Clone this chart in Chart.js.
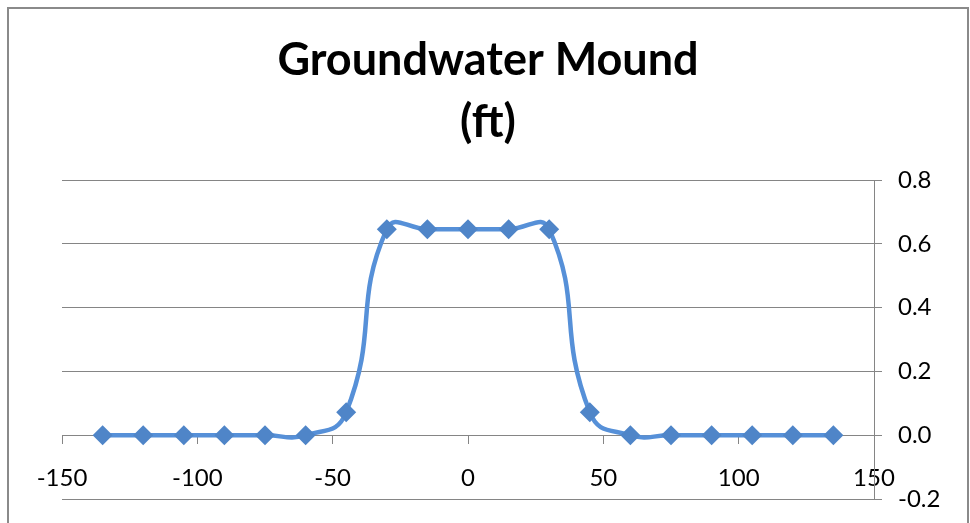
<!DOCTYPE html>
<html>
<head>
<meta charset="utf-8">
<script src="https://cdn.jsdelivr.net/npm/chart.js@4.4.1/dist/chart.umd.min.js"></script>
<style>
  html, body { margin: 0; padding: 0; background: #fff; overflow: hidden; }
  .frame {
    position: absolute; left: 7px; top: 7px;
    width: 958px; height: 600px;
    border: 2px solid #8a8a8a;
  }
  #mound { position: absolute; left: 0; top: 0; }
</style>
</head>
<body>
<div class="frame"></div>
<canvas id="mound" width="970" height="523"></canvas>
<script>
// 地下水マウンド（ft）
const distances = [-135, -120, -105, -90, -75, -60, -45, -30, -15, 0, 15, 30, 45, 60, 75, 90, 105, 120, 135]
const moundFt = [0, 0, 0, 0, 0, 0, 0.072, 0.646, 0.646, 0.646, 0.646, 0.646, 0.072, 0, 0, 0, 0, 0, 0]
const xTicks = [-150, -100, -50, 0, 50, 100, 150]
const yTicks = [-0.2, 0, 0.2, 0.4, 0.6, 0.8]
const titleLines = ['Groundwater Mound', '(ft)']

const gridGray = '#858585'
const fontFamily = 'Lato, "Open Sans", sans-serif'

const points = distances.map((x, i) => ({ x: x, y: moundFt[i] }))

// タイトルは枠全体の中央に描く
const titlePlugin = {
  id: 'frameTitle',
  afterDraw(chart) {
    const ctx = chart.ctx
    ctx.save()
    ctx.fillStyle = '#000'
    ctx.font = 'bold 45px ' + fontFamily
    ctx.textAlign = 'center'
    ctx.textBaseline = 'middle'
    titleLines.forEach((line, i) => {
      ctx.fillText(line, 488, 60 + i * 62)
    })
    ctx.restore()
  }
}

new Chart(document.getElementById('mound'), {
  type: 'scatter',
  data: {
    datasets: [{
      data: points,
      showLine: true,
      tension: 0.5,
      borderColor: '#5690d8',
      borderWidth: 4.5,
      pointStyle: 'rectRot',
      pointRadius: 10,
      pointHoverRadius: 10,
      pointBackgroundColor: '#4f85c8',
      pointBorderColor: '#4f85c8',
      pointBorderWidth: 0
    }]
  },
  plugins: [titlePlugin],
  options: {
    responsive: false,
    animation: false,
    devicePixelRatio: 1,
    layout: {
      padding: { left: 62, right: 0, top: 180, bottom: 24 }
    },
    plugins: {
      legend: { display: false },
      tooltip: { enabled: false },
      title: { display: false }
    },
    scales: {
      x: {
        type: 'linear',
        min: -150,
        max: 150,
        position: { y: 0 },
        afterBuildTicks: (scale) => {
          scale.ticks = xTicks.map(v => ({ value: v }))
        },
        grid: {
          drawOnChartArea: false,
          drawTicks: true,
          tickLength: 8,
          color: gridGray,
          lineWidth: 1
        },
        border: { display: true, color: gridGray, width: 1 },
        ticks: {
          color: '#000',
          padding: 21,
          maxRotation: 0,
          font: { family: fontFamily, size: 24 }
        }
      },
      y: {
        type: 'linear',
        position: 'right',
        min: -0.2,
        max: 0.8,
        afterBuildTicks: (scale) => {
          scale.ticks = yTicks.map(v => ({ value: v }))
        },
        afterFit: (scale) => {
          // 幅は固定、上下の余白はレイアウト側で決める
          scale.width = 96
          scale.paddingTop = 0
          scale.paddingBottom = 0
        },
        grid: {
          drawTicks: true,
          tickLength: 8,
          color: gridGray,
          lineWidth: 1
        },
        border: { display: true, color: gridGray, width: 1 },
        ticks: {
          color: '#000',
          padding: 16,
          font: { family: fontFamily, size: 24 },
          callback: (value) => value.toFixed(1)
        }
      }
    }
  }
})
</script>
</body>
</html>
